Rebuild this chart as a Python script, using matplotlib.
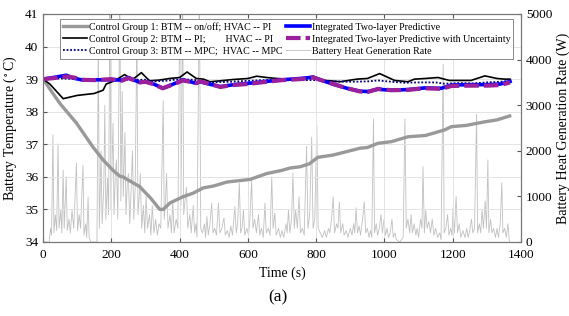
import matplotlib
matplotlib.use('Agg')
import matplotlib.pyplot as plt

plt.rcParams['font.family'] = ['Liberation Serif', 'DejaVu Serif']
plt.rcParams['mathtext.fontset'] = 'stix'

# Control group 1: BTM on/off, HVAC PI
cg1_t = [0, 49, 98, 146, 176, 205, 225, 234, 250, 283, 315, 342, 352, 372, 410, 440, 469, 500,
         538, 572, 606, 655, 700, 723, 753, 780, 805, 850, 880, 929, 950, 981, 1020, 1069, 1120,
         1176, 1196, 1240, 1294, 1330, 1367]
cg1 = [39.0, 38.26, 37.65, 36.92, 36.52, 36.2, 36.02, 36.0, 35.9, 35.7, 35.35, 35.0, 35.0, 35.2,
       35.39, 35.5, 35.66, 35.72, 35.84, 35.88, 35.92, 36.1, 36.2, 36.27, 36.31, 36.4, 36.6, 36.67,
       36.75, 36.88, 36.9, 37.03, 37.08, 37.23, 37.27, 37.44, 37.54, 37.58, 37.69, 37.75, 37.87]

# Control group 2: BTM PI, HVAC PI
cg2_t = [0, 20, 59, 100, 150, 176, 185, 210, 239, 252, 264, 288, 312, 340, 371, 400, 422, 449,
         470, 489, 520, 558, 600, 626, 655, 685, 720, 760, 792, 810, 840, 870, 919, 950, 986, 1030,
         1069, 1088, 1120, 1157, 1190, 1254, 1294, 1330, 1352, 1368]
cg2 = [39.0, 38.85, 38.4, 38.5, 38.56, 38.66, 38.85, 38.95, 39.14, 39.05, 39.0, 39.2, 38.95, 38.97,
       39.02, 39.05, 39.22, 39.02, 39.0, 38.92, 38.95, 38.99, 39.02, 39.09, 39.05, 39.02, 39.0,
       39.03, 39.09, 38.97, 38.95, 38.92, 39.0, 39.02, 39.17, 38.96, 38.92, 39.0, 39.02, 39.05,
       38.96, 38.96, 39.1, 39.02, 39.0, 39.0]

# Control group 3: BTM MPC, HVAC MPC
cg3_t = [0, 50, 100, 150, 200, 250, 300, 322, 360, 400, 440, 489, 550, 600, 650, 700, 753, 800,
         850, 900, 950, 981, 1020, 1059, 1100, 1150, 1176, 1220, 1260, 1300, 1340, 1368]
cg3 = [39.0, 39.02, 39.0, 38.98, 39.0, 38.98, 38.98, 38.93, 38.95, 39.0, 38.98, 38.9, 38.92, 38.95,
       38.97, 38.98, 38.97, 38.97, 38.93, 38.92, 38.93, 38.96, 38.92, 38.89, 38.9, 38.9, 38.86,
       38.88, 38.87, 38.9, 38.92, 38.95]

# Integrated two-layer predictive (with and without uncertainty)
ip_t = [0, 30, 68, 90, 117, 150, 200, 230, 250, 283, 300, 322, 351, 371, 410, 449, 460, 490, 519,
        558, 600, 655, 700, 753, 792, 820, 851, 890, 929, 952, 981, 1020, 1069, 1118, 1167, 1196,
        1250, 1300, 1340, 1368]
ip = [39.0, 39.05, 39.12, 39.03, 38.97, 38.98, 38.98, 38.97, 39.05, 38.9, 38.92, 38.86, 38.72, 38.8,
      38.98, 38.87, 38.92, 38.84, 38.77, 38.83, 38.87, 38.93, 38.98, 39.02, 39.06, 38.95, 38.84,
      38.72, 38.63, 38.62, 38.69, 38.66, 38.68, 38.73, 38.72, 38.82, 38.83, 38.83, 38.85, 38.93]
ipu = [39.0, 39.03, 39.08, 39.05, 38.98, 38.97, 39.0, 38.95, 39.03, 38.9, 38.92, 38.85, 38.72, 38.8,
       38.96, 38.88, 38.93, 38.85, 38.76, 38.82, 38.85, 38.92, 38.97, 39.0, 39.05, 38.95, 38.85,
       38.72, 38.62, 38.61, 38.7, 38.66, 38.67, 38.72, 38.7, 38.79, 38.8, 38.8, 38.82, 38.9]

# battery heat generation rate (W), (time, value)
heat = [(0, 0), (18, 0), (22, 300), (25, 150), (29, 2350), (32, 200), (36, 600), (40, 250), (44, 2150),
        (47, 300), (52, 700), (55, 200), (59, 1580), (62, 300), (68, 1430), (71, 250), (76, 500),
        (80, 200), (85, 700), (90, 300), (98, 1730), (101, 250), (106, 600), (110, 300), (117, 1680),
        (120, 150), (125, 400), (128, 100), (132, 990), (135, 100), (140, 0), (158, 0),
        (162, 4500), (165, 300), (170, 2000), (173, 400), (178, 1200), (181, 3000), (184, 500),
        (189, 1400), (192, 600), (196, 5600), (199, 700), (205, 2600), (208, 600), (212, 1500),
        (215, 1800), (219, 500), (225, 5600), (228, 900), (232, 3300), (235, 1000), (240, 2400),
        (243, 600), (247, 1300), (250, 1500), (254, 400), (258, 1100), (262, 2000), (266, 500),
        (270, 1200), (275, 4700), (278, 600), (282, 1000), (285, 1500), (289, 300), (294, 800),
        (298, 200), (302, 1000), (306, 300), (312, 600), (316, 150), (320, 800), (325, 200),
        (330, 500), (335, 150), (340, 400), (345, 300), (352, 3100), (355, 500), (358, 800),
        (362, 1500), (366, 300), (372, 600), (376, 200), (380, 900), (384, 200), (390, 500),
        (395, 300), (401, 5600), (404, 800), (409, 5600), (412, 600), (416, 900), (420, 1200),
        (424, 300), (430, 600), (434, 200), (440, 800), (444, 200), (448, 400), (451, 100),
        (458, 5600), (462, 300), (467, 200), (473, 400), (476, 100), (480, 560), (484, 150),
        (489, 400), (494, 850), (498, 200), (503, 300), (508, 150), (514, 850), (518, 200),
        (524, 300), (530, 530), (534, 150), (540, 250), (545, 100), (550, 350), (555, 150),
        (562, 780), (566, 200), (570, 400), (575, 1290), (579, 200), (583, 300), (587, 700),
        (591, 150), (597, 300), (602, 150), (606, 500), (611, 1360), (615, 300), (620, 500),
        (625, 200), (631, 600), (635, 150), (640, 300), (645, 100), (650, 850), (654, 200),
        (660, 300), (665, 150), (670, 1430), (674, 300), (679, 630), (683, 150), (690, 300),
        (695, 100), (700, 250), (705, 100), (712, 400), (715, 200), (719, 700), (723, 200),
        (728, 500), (732, 1510), (736, 300), (740, 700), (745, 300), (750, 990), (754, 200),
        (760, 300), (765, 150), (772, 2100), (776, 300), (781, 600), (787, 2300), (791, 300),
        (796, 500), (802, 2550), (806, 300), (812, 200), (818, 100), (825, 250), (830, 100),
        (836, 300), (840, 200), (845, 500), (850, 990), (854, 200), (860, 400), (864, 300),
        (868, 880), (872, 200), (878, 400), (882, 150), (888, 250), (893, 100), (900, 300),
        (905, 150), (910, 400), (913, 200), (917, 750), (921, 200), (926, 350), (930, 150),
        (936, 500), (941, 880), (945, 200), (950, 300), (955, 100), (959, 250), (963, 100),
        (968, 2700), (971, 200), (976, 400), (980, 150), (985, 300), (990, 600), (994, 200),
        (999, 500), (1003, 150), (1008, 300), (1012, 100), (1017, 200), (1022, 500), (1026, 100),
        (1031, 200), (1035, 50), (1045, 0), (1055, 100), (1060, 2700), (1064, 300), (1069, 500),
        (1074, 200), (1078, 600), (1082, 200), (1087, 400), (1092, 150), (1096, 300), (1100, 100),
        (1106, 500), (1110, 300), (1113, 1650), (1117, 200), (1121, 700), (1125, 300), (1130, 450),
        (1135, 200), (1140, 500), (1145, 150), (1150, 300), (1156, 100), (1162, 200), (1166, 50),
        (1172, 3900), (1175, 200), (1180, 300), (1185, 600), (1189, 150), (1194, 300), (1198, 150),
        (1201, 750), (1205, 200), (1210, 1000), (1214, 200), (1219, 400), (1224, 100), (1230, 250),
        (1236, 100), (1241, 300), (1245, 100), (1250, 250), (1255, 500), (1259, 200), (1264, 300),
        (1270, 2800), (1273, 200), (1278, 400), (1282, 200), (1286, 700), (1290, 300), (1295, 900),
        (1299, 300), (1303, 1800), (1306, 200), (1311, 500), (1315, 200), (1320, 300), (1325, 100),
        (1330, 300), (1334, 100), (1339, 400), (1344, 1300), (1347, 200), (1352, 300), (1357, 100),
        (1362, 400), (1366, 0)]
heat_t = [p[0] for p in heat]
heat_w = [p[1] for p in heat]

fig = plt.figure(figsize=(5.69, 3.16), dpi=100)
ax = fig.add_axes([0.0756, 0.2342, 0.84, 0.7215])
ax2 = ax.twinx()

hl, = ax2.plot(heat_t, heat_w, color='#c0c0c0', lw=0.6)
ax2.set_ylim(0, 5000)
ax2.set_yticks([0, 1000, 2000, 3000, 4000, 5000])
ax2.set_ylabel('Battery Heat Generation Rate (W)', fontsize=10, labelpad=3)

ax.set_zorder(ax2.get_zorder() + 1)
ax.patch.set_visible(False)

l1, = ax.plot(cg1_t, cg1, color='#999999', lw=2.4)
l2, = ax.plot(cg2_t, cg2, color='black', lw=1.2)
l3, = ax.plot(cg3_t, cg3, color='#00007a', lw=1.3, ls=(0, (1, 1)))
l4, = ax.plot(ip_t, ip, color='#0000ff', lw=2.6)
l5, = ax.plot(ip_t, ipu, color='#9c1f9c', lw=3.0, ls=(0, (3.5, 1.2)))

ax.set_xlim(0, 1400)
ax.set_ylim(34, 41)
ax.set_xticks(range(0, 1401, 200))
ax.set_yticks(range(34, 42))
ax.grid(True, color='#e3e3e3', lw=0.7)
ax.set_axisbelow(True)
ax.set_xlabel('Time (s)', fontsize=10, labelpad=4)
ax.set_ylabel(r'Battery Temperature ($^\circ$C)', fontsize=10, labelpad=4)

for a in (ax, ax2):
    a.tick_params(direction='in', labelsize=9.5, length=3, color='#555555')
    for s in a.spines.values():
        s.set_color('#777777')
        s.set_linewidth(0.8)
ax.tick_params(top=True, right=False)
ax.tick_params(axis='x', pad=5)

labels = ['Control Group 1: BTM -- on/off; HVAC -- PI',
          'Control Group 2: BTM -- PI;        HVAC -- PI',
          'Control Group 3: BTM -- MPC;  HVAC -- MPC',
          'Integrated Two-layer Predictive',
          'Integrated Two-layer Predictive with Uncertainty',
          'Battery Heat Generation Rate']
leg = ax.legend([l1, l2, l3, l4, l5, hl], labels, ncol=2, loc='upper left',
                bbox_to_anchor=(0.036, 0.978), borderaxespad=0, fontsize=7.2,
                frameon=True, fancybox=False, framealpha=1, edgecolor='#888888',
                handlelength=2.4, handletextpad=0.2, columnspacing=0.3,
                labelspacing=0.3, borderpad=0.3)
leg.get_frame().set_linewidth(0.7)

fig.text(0.489, 0.06, '(a)', ha='center', va='center', fontsize=12.5)

fig.savefig('out.png', dpi=100)
